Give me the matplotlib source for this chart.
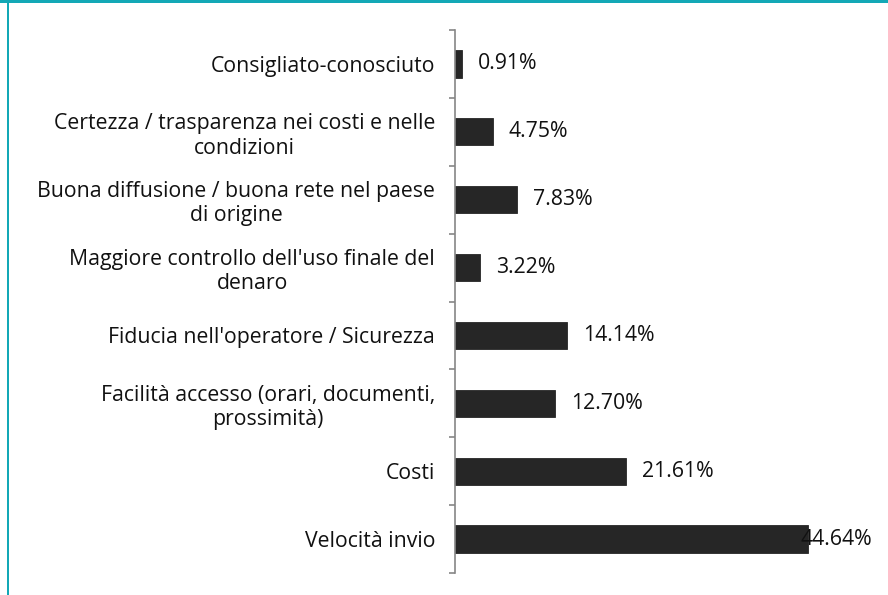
import matplotlib
matplotlib.use("Agg")
import matplotlib.pyplot as plt
import matplotlib.transforms as mtransforms
from matplotlib.patches import Rectangle

categories = [
    "Consigliato-conosciuto",
    "Certezza / trasparenza nei costi e nelle\ncondizioni",
    "Buona diffusione / buona rete nel paese\ndi origine",
    "Maggiore controllo dell'uso finale del\ndenaro",
    "Fiducia nell'operatore / Sicurezza",
    "Facilità accesso (orari, documenti,\nprossimità)",
    "Costi",
    "Velocità invio",
]
values = [0.91, 4.75, 7.83, 3.22, 14.14, 12.70, 21.61, 44.64]
value_labels = ["0.91%", "4.75%", "7.83%", "3.22%", "14.14%", "12.70%", "21.61%", "44.64%"]

plt.rcParams['font.family'] = ['Open Sans', 'DejaVu Sans']
FS = 15.3

W, H = 888, 595
fig = plt.figure(figsize=(W / 100, H / 100), dpi=100)
fig.patch.set_facecolor('white')

teal = '#13A8B6'
# frame decoration: top band and left line
fig.add_artist(Rectangle((0, 1 - 3 / H), 1, 3 / H, transform=fig.transFigure,
                         facecolor=teal, edgecolor='none'))
fig.add_artist(Rectangle((7 / W, 0), 2 / W, 1, transform=fig.transFigure,
                         facecolor=teal, edgecolor='none'))

left_px, right_px = 455, 850.5
top_px, bot_px = 30, 573
ax = fig.add_axes([left_px / W, 1 - bot_px / H, (right_px - left_px) / W, (bot_px - top_px) / H])

n = len(categories)
ypos = list(range(n))
ax.barh(ypos, values, height=0.4, color='#262626', edgecolor='#262626', linewidth=0.6)
ax.set_xlim(0, 50)
ax.set_ylim(n - 0.5, -0.5)

for s in ['top', 'right', 'bottom']:
    ax.spines[s].set_visible(False)
ax.spines['left'].set_color('#868686')
ax.spines['left'].set_linewidth(1.2)
ax.set_xticks([])

ax.set_yticks([i - 0.5 for i in range(n + 1)], minor=False)
ax.set_yticklabels([])
ax.tick_params(axis='y', which='major', length=4.3, color='#868686', width=1.2)
ax.set_yticks(ypos, minor=True)
ax.set_yticklabels(categories, minor=True, fontsize=FS, color='#111111',
                   multialignment='center', linespacing=1.2)
ax.tick_params(axis='y', which='minor', length=0, pad=14.4)

trans = mtransforms.blended_transform_factory(ax.transAxes, ax.transData)
for i, (v, lab) in enumerate(zip(values, value_labels)):
    if v > 40:
        ax.annotate(lab, xy=(1.0, i), xycoords=trans, xytext=(22, 0),
                    textcoords='offset pixels', ha='right', va='center',
                    fontsize=FS, color='#111111', annotation_clip=False)
    else:
        ax.annotate(lab, xy=(v, i), xytext=(16, 0), textcoords='offset pixels',
                    ha='left', va='center', fontsize=FS, color='#111111')

fig.savefig('out.png', dpi=100, facecolor='white')
